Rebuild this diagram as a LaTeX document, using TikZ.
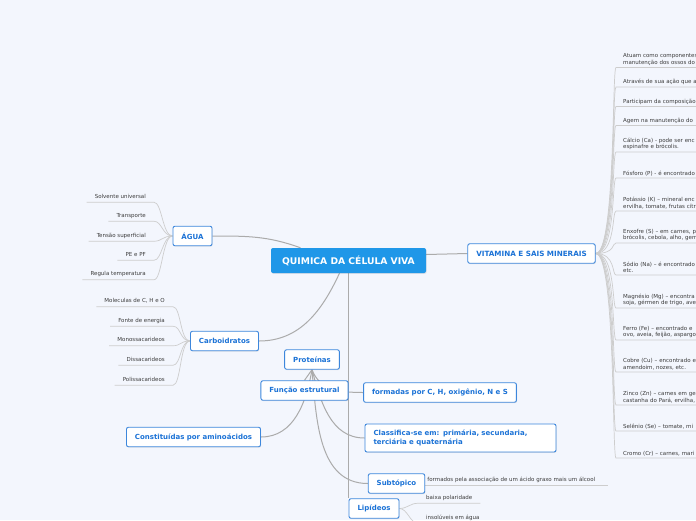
\documentclass[tikz,border=0pt]{standalone}
\usepackage{fontspec}
\setmainfont{DejaVu Sans}
\usetikzlibrary{positioning, shadows}
\pgfdeclarelayer{back}
\pgfdeclarelayer{links}
\pgfsetlayers{back,links,main}
\definecolor{mapbg}{HTML}{F3F6FD}
\definecolor{rootblue}{HTML}{1F97E8}
\definecolor{topicblue}{HTML}{1B72D6}
\definecolor{branchgray}{HTML}{ABABAB}
\definecolor{twiggray}{HTML}{CDCDCD}
\definecolor{leafgray}{HTML}{3C3C3C}

\begin{document}
\begin{tikzpicture}[x=1pt, y=1pt,
    topic/.style={draw=topicblue!85, line width=0.9pt, fill=white, rounded corners=2pt, text=topicblue,
      font=\fontsize{7}{8.4}\selectfont\bfseries, inner xsep=8.5pt, inner ysep=0pt, minimum height=19.5pt,
      drop shadow={opacity=0.18, shadow xshift=0.6pt, shadow yshift=-0.9pt}},
    root/.style={fill=rootblue, text=white, rounded corners=2pt, font=\fontsize{9.2}{11}\selectfont\bfseries,
      minimum width=155pt, minimum height=25pt, drop shadow={opacity=0.18, shadow xshift=0.6pt, shadow yshift=-0.9pt}},
    leaf/.style={text=leafgray, font=\fontsize{5.5}{6.6}\selectfont, inner xsep=8pt, inner ysep=2.4pt,
      text height=4.1pt, text depth=1.2pt},
    rleaf/.style={text=leafgray, font=\fontsize{5.5}{6.6}\selectfont, inner xsep=7pt, inner ysep=2pt,
      align=left, text width=90pt, anchor=south west},
    branch/.style={draw=branchgray, line width=1pt},
    twig/.style={draw=twiggray, line width=0.7pt}]

  \begin{pgfonlayer}{back}
    \fill[mapbg] (0,0) rectangle (696,-520);
  \end{pgfonlayer}
  \useasboundingbox (0,0) rectangle (696,-520);

  \node[root] (main) at (348.5,-260.5) {QUIMICA DA CÉLULA VIVA};
  \node[topic] (agua) at (192.5,-236) {ÁGUA};
  \node[topic] (carb) at (224.5,-341) {Carboidratos};
  \node[topic, font=\fontsize{7.2}{8.6}\selectfont\bfseries] (vit) at (531.5,-253.5) {VITAMINA E SAIS MINERAIS};
  \node[topic] (prot) at (312,-359.5) {Proteínas};
  \node[topic] (func) at (304.5,-390.5) {Função estrutural};
  \node[topic] (amino) at (193.5,-437) {Constituídas por aminoácidos};
  \node[topic] (form) at (440,-392.5) {formadas por C, H, oxigênio, N e S};
  \node[topic, minimum height=28pt, text width=174pt, align=left] (class) at (460.5,-438)
    {Classifica-se em: primária, secundaria,\\terciária e quaternária};
  \node[topic] (subt) at (396.5,-483.5) {Subtópico};
  \node[topic] (lip) at (374,-508.5) {Lipídeos};

  \begin{pgfonlayer}{links}
    \draw[branch] (agua.east) to[out=0,in=160] ([xshift=-48pt]main.north);
    \draw[branch] ([xshift=-9pt]main.south) to[out=-115,in=0] (carb.east);
    \draw[branch] ([yshift=6pt]main.east) -- (vit.west);
    \draw[branch, line width=1.4pt] (main.south) -- (main.south |- lip.north);
    \draw[branch] (prot.south) -- (func.north);
    \draw[branch] (prot.south) to[out=-70,in=180] (form.west);
    \draw[branch] (prot.south) to[out=-75,in=180] (class.west);
    \draw[branch] (prot.south) to[out=-85,in=180] (subt.west);
    \draw[branch] (prot.south) to[out=-100,in=0] (amino.east);
  \end{pgfonlayer}

  \foreach \n/\y/\t in {1/197/Solvente universal, 2/216/Transporte, 3/236/Tensão superficial,
      4/255/PE e PF, 5/274.5/Regula temperatura} {
    \node[leaf, anchor=east] (w\n) at (154,-\y) {\t};
    \begin{pgfonlayer}{links}
      \draw[twig] (agua.west) to[out=180,in=0,out distance=10pt,in distance=8pt] (w\n.south east) -- (w\n.south west);
    \end{pgfonlayer}
  }

  \foreach \n/\y/\t in {1/301.5/{Moleculas de C, H e O}, 2/321/Fonte de energia, 3/340.5/Monossacarideos,
      4/360/Dissacarideos, 5/380/Polissacarideos} {
    \node[leaf, anchor=east] (c\n) at (173,-\y) {\t};
    \begin{pgfonlayer}{links}
      \draw[twig] (carb.west) to[out=180,in=0,out distance=10pt,in distance=8pt] (c\n.south east) -- (c\n.south west);
    \end{pgfonlayer}
  }

  \foreach \n/\u/\t in {1/67.5/{Atuam como componentes\\manutenção dos ossos do},
      2/87/{Através de sua ação que a}, 3/106.5/{Participam da composição},
      4/125.5/{Agem na manutenção do}, 5/152/{Cálcio (Ca) - pode ser enc\\espinafre e brócolis.},
      6/178/{Fósforo (P) - é encontrado}, 7/211/{Potássio (K) – mineral enc\\ervilha, tomate, frutas cítr},
      8/243/{Enxofre (S) – em carnes, p\\brócolis, cebola, alho, gem}, 9/275/{Sódio (Na) – é encontrado\\etc.},
      10/308/{Magnésio (Mg) – encontra\\soja, gérmen de trigo, ave}, 11/340/{Ferro (Fe) – encontrado e\\ovo, aveia, feijão, aspargo},
      12/372/{Cobre (Cu) – encontrado e\\amendoim, nozes, etc.}, 13/405/{Zinco (Zn) – carnes em ge\\castanha do Pará, ervilha,},
      14/431/{Selênio (Se) – tomate, mi}, 15/458/{Cromo (Cr) – carnes, mari}} {
    \node[rleaf] (r\n) at (616,-\u) {\t};
    \begin{pgfonlayer}{links}
      \draw[twig] (vit.east) to[out=0,in=180,out distance=20pt,in distance=4pt] (r\n.south west) -- (r\n.south east);
    \end{pgfonlayer}
  }

  \node[leaf, anchor=south west, inner xsep=2pt] (s1) at ([yshift=-1.5pt]subt.east)
    {formados pela associação de um ácido graxo mais um álcool};
  \node[leaf, anchor=west] (l1) at (418,-498) {baixa polaridade};
  \node[leaf, anchor=west] (l2) at (418,-518) {insolúveis em água};
  \begin{pgfonlayer}{links}
    \draw[twig] (s1.south west) -- ([xshift=11pt]s1.south east);
    \draw[twig] (lip.east) to[out=0,in=180,out distance=8pt,in distance=8pt] (l1.south west) -- (l1.south east);
    \draw[twig] (lip.east) to[out=0,in=180,out distance=8pt,in distance=8pt] (l2.south west) -- (l2.south east);
  \end{pgfonlayer}
\end{tikzpicture}
\end{document}
